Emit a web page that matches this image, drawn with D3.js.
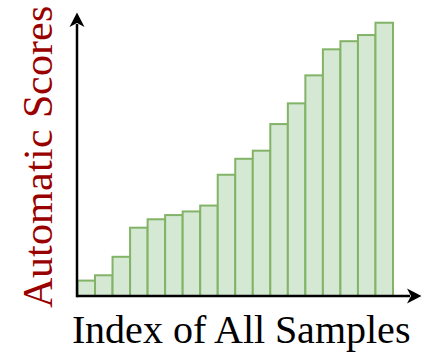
<!DOCTYPE html>
<html><head><meta charset="utf-8">
<script src="https://cdn.jsdelivr.net/npm/d3@7"></script>
<style>html,body{margin:0;padding:0;background:#fff;}
@font-face{font-family:'ChartSerif';src:local('Liberation Serif'),local('LiberationSerif'),local('Liberation Serif Regular');}
</style>
</head><body>
<svg id="chart" width="433" height="353"></svg>
<script>
const categories = d3.range(1, 19).map(String);
const scores = [0.055, 0.074, 0.14, 0.244, 0.274, 0.289, 0.302, 0.323, 0.433, 0.49, 0.519, 0.614, 0.688, 0.788, 0.881, 0.91, 0.932, 0.976];
const xLabel = "Index of All Samples";
const yLabel = "Automatic Scores";

const svg = d3.select("#chart");
const x0 = 77, x1 = 393, y0 = 296, yTop = 16;
const x = d3.scaleBand().domain(categories).range([x0 + 0.5, x1]).padding(0);
const y = d3.scaleLinear().domain([0, 1]).range([y0, yTop]);

svg.append("g").selectAll("rect").data(scores).join("rect")
  .attr("x", (d, i) => x(categories[i]))
  .attr("y", d => y(d))
  .attr("width", x.bandwidth())
  .attr("height", d => y0 - y(d))
  .attr("fill", "#d5e8d4")
  .attr("stroke", "#82b366")
  .attr("stroke-width", 2);

// axes
svg.append("line").attr("x1", x0).attr("y1", y0).attr("x2", 410).attr("y2", y0)
  .attr("stroke", "#000").attr("stroke-width", 2.5);
svg.append("line").attr("x1", x0).attr("y1", y0 + 1.2).attr("x2", x0).attr("y2", 24)
  .attr("stroke", "#000").attr("stroke-width", 2.5);
// arrowheads
svg.append("path").attr("d", `M${x0},12.5 L${x0 + 7.5},27 L${x0},23 L${x0 - 7.5},27 Z`).attr("fill", "#000");
svg.append("path").attr("d", `M421.5,${y0} L407,${y0 - 7.5} L411,${y0} L407,${y0 + 7.5} Z`).attr("fill", "#000");

svg.append("text").attr("x", 241).attr("y", 342.5).attr("text-anchor", "middle")
  .attr("font-family", "ChartSerif, 'Liberation Serif', serif").attr("font-size", 40)
  .attr("fill", "#000").text(xLabel);
svg.append("text").attr("transform", "translate(52,156.7) rotate(-90)").attr("text-anchor", "middle")
  .attr("font-family", "ChartSerif, 'Liberation Serif', serif").attr("font-size", 41.5)
  .attr("fill", "#990000").text(yLabel);
</script>
</body></html>
